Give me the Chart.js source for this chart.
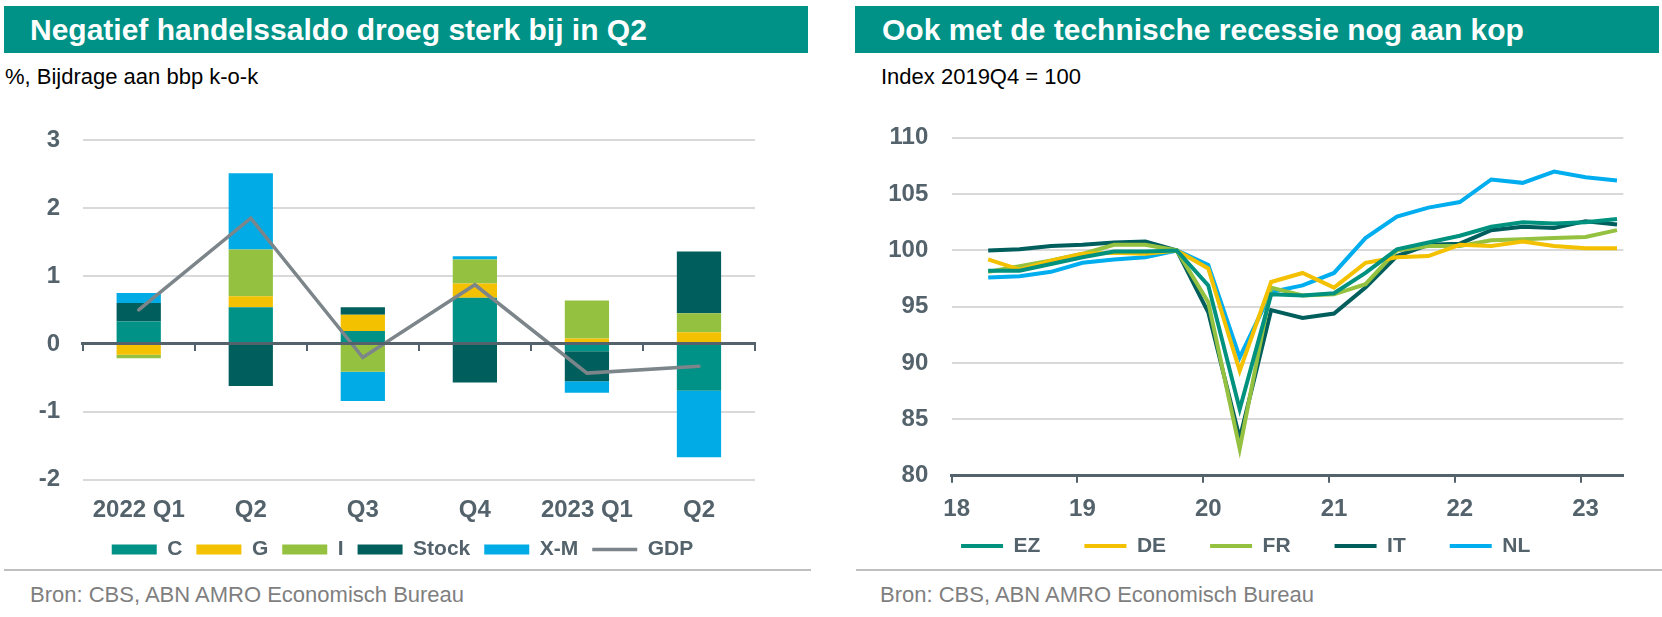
<!DOCTYPE html>
<html>
<head>
<meta charset="utf-8">
<script src="https://cdn.jsdelivr.net/npm/chart.js@4.4.0/dist/chart.umd.min.js"></script>
<style>
  body { margin: 0; width: 1662px; height: 617px; background: #fff; position: relative; overflow: hidden;
         font-family: 'Liberation Sans', Arial, sans-serif; }
  .head { position: absolute; top: 6px; height: 47px; width: 804px; background: #009286; color: #fff;
          font-weight: bold; font-size: 30px; line-height: 47px; box-sizing: border-box; white-space: nowrap; }
  .sub { position: absolute; top: 64px; font-size: 22px; line-height: 25px; color: #000; }
  .src { position: absolute; top: 582px; font-size: 22px; line-height: 25px; color: #7f7f7f; }
  .sep { position: absolute; top: 569px; height: 2px; background: #bfbfbf; }
  canvas { position: absolute; top: 100px; }
</style>
</head>
<body>
<div class="head" style="left:4px; padding-left:26px;">Negatief handelssaldo droeg sterk bij in Q2</div>
<div class="sub" style="left:5px;">%, Bijdrage aan bbp k-o-k</div>
<div class="sep" style="left:4px; width:807px;"></div>
<div class="src" style="left:30px;">Bron: CBS, ABN AMRO Economisch Bureau</div>
<canvas id="c1" width="830" height="470" style="left:0px;"></canvas>

<div class="head" style="left:855px; padding-left:27px;">Ook met de technische recessie nog aan kop</div>
<div class="sub" style="left:881px;">Index 2019Q4 = 100</div>
<div class="sep" style="left:856px; width:806px;"></div>
<div class="src" style="left:880px;">Bron: CBS, ABN AMRO Economisch Bureau</div>
<canvas id="c2" width="822" height="499" style="left:840px;"></canvas>

<script>
// left chart: contributions to GDP growth q-o-q
const quarters = ['2022 Q1', 'Q2', 'Q3', 'Q4', '2023 Q1', 'Q2'];
const consC  = [0.33, 0.54, 0.19, 0.68, -0.11, -0.69];
const govG   = [-0.16, 0.16, 0.24, 0.21, 0.08, 0.17];
const invI   = [-0.05, 0.69, -0.41, 0.35, 0.56, 0.28];
const stock  = [0.27, -0.62, 0.11, -0.57, -0.44, 0.91];
const netX   = [0.15, 1.12, -0.43, 0.05, -0.17, -0.98];
const gdp    = [0.50, 1.85, -0.20, 0.87, -0.43, -0.33];

// right chart: GDP index, 2019Q4 = 100
const periods = ['2018Q2','2018Q3','2018Q4','2019Q1','2019Q2','2019Q3','2019Q4','2020Q1','2020Q2','2020Q3','2020Q4',
                 '2021Q1','2021Q2','2021Q3','2021Q4','2022Q1','2022Q2','2022Q3','2022Q4','2023Q1','2023Q2'];
const ez = [98.2, 98.2, 98.8, 99.4, 99.9, 99.9, 100, 96.9, 85.9, 96.1, 96.0, 96.2, 98.0, 100.1, 100.7, 101.3, 102.1, 102.5, 102.4, 102.5, 102.8];
const de = [99.2, 98.3, 99.1, 99.7, 99.8, 99.7, 100, 98.4, 89.3, 97.2, 98.0, 96.7, 98.9, 99.4, 99.5, 100.5, 100.4, 100.8, 100.4, 100.2, 100.2];
const fr = [98.1, 98.6, 99.1, 99.7, 100.5, 100.5, 100, 95.4, 82.4, 96.7, 96.0, 96.1, 97.0, 100.0, 100.4, 100.4, 100.9, 101.0, 101.1, 101.2, 101.8];
const it = [100.0, 100.1, 100.4, 100.5, 100.7, 100.8, 100, 94.5, 83.3, 94.7, 94.0, 94.4, 96.7, 99.5, 100.5, 100.6, 101.8, 102.1, 102.0, 102.6, 102.3];
const nl = [97.6, 97.7, 98.1, 98.9, 99.2, 99.4, 100, 98.7, 90.5, 96.3, 96.9, 98.0, 101.1, 103.0, 103.8, 104.3, 106.3, 106.0, 107.0, 106.5, 106.2];
const yearLabels = ['18', '19', '20', '21', '22', '23'];

const FONT = "'Liberation Sans', Arial, sans-serif";
const AXIS = '#53626B';
const GRID = '#d9d9d9';

// move the legend box (Excel does not centre it on the canvas)
const shiftLegend = {
  id: 'shiftLegend',
  afterLayout(chart, args, opts) {
    const lg = chart.legend;
    if (!lg) return;
    const dx = opts.dx || 0, dy = opts.dy || 0;
    lg.left += dx; lg.right += dx;
    lg.top += dy; lg.bottom += dy;
  }
};

function bar(label, data, color) {
  return { type: 'bar', label: label, data: data, backgroundColor: color, borderWidth: 0,
           pointStyle: 'rect', barPercentage: 0.395, categoryPercentage: 1.0 };
}

new Chart(document.getElementById('c1'), {
  type: 'bar',
  data: {
    labels: quarters,
    datasets: [
      bar('C', consC, '#009286'),
      bar('G', govG, '#F3C100'),
      bar('I', invI, '#94C13F'),
      bar('Stock', stock, '#005E5D'),
      bar('X-M', netX, '#00ABE6'),
      { type: 'line', label: 'GDP', data: gdp, borderColor: '#7C858A', backgroundColor: '#7C858A',
        borderWidth: 3.5, pointRadius: 0, pointStyle: 'line', borderCapStyle: 'round', order: -1 }
    ]
  },
  options: {
    responsive: false,
    animation: false,
    layout: { padding: { left: 0, right: 75, top: 40, bottom: 0 } },
    scales: {
      x: {
        stacked: true,
        grid: { display: false, drawTicks: false },
        border: { display: false },
        ticks: { color: AXIS, padding: 16.3, font: { family: FONT, size: 24, weight: 'bold' } },
        afterFit: function(scale) { scale.height = 45.2; }
      },
      x2: {
        type: 'category',
        position: { y: 0 },
        offset: true,
        grid: { offset: true, drawOnChartArea: false, drawTicks: true, tickLength: 6, color: AXIS, lineWidth: 2, z: 1 },
        border: { display: true, color: AXIS, width: 3, z: 1 },
        ticks: { display: false }
      },
      y: {
        stacked: true,
        min: -2, max: 3,
        ticks: { stepSize: 1, color: AXIS, padding: 22.7, font: { family: FONT, size: 24, weight: 'bold' } },
        grid: { drawTicks: false, lineWidth: 2,
                color: function(ctx) { return ctx.tick && ctx.tick.value === 0 ? 'rgba(0,0,0,0)' : GRID; } },
        border: { display: false },
        afterFit: function(scale) { scale.width = 82.7; }
      }
    },
    plugins: {
      shiftLegend: { dx: 25 },
      tooltip: { enabled: false },
      legend: {
        position: 'bottom',
        labels: {
          usePointStyle: true, pointStyleWidth: 45, boxHeight: 10, padding: 14,
          color: AXIS, font: { family: FONT, size: 21, weight: 'bold' },
          sort: function(a, b) { return a.datasetIndex - b.datasetIndex; }
        }
      }
    }
  },
  plugins: [shiftLegend]
});

// quarter label -> position on the year axis
function qPos(p) {
  return Number(p.slice(0, 4)) + (Number(p.slice(5)) - 1) / 4 + 0.04;
}

function line(label, values, color) {
  return { label: label, data: periods.map(function(p, i) { return { x: qPos(p), y: values[i] }; }),
           borderColor: color, backgroundColor: color, borderWidth: 4, pointBorderWidth: 4,
           pointRadius: 0, pointStyle: 'line', borderJoinStyle: 'miter', tension: 0 };
}

new Chart(document.getElementById('c2'), {
  type: 'line',
  data: {
    datasets: [
      line('EZ', ez, '#00927F'),
      line('DE', de, '#F3C100'),
      line('FR', fr, '#94C13F'),
      line('IT', it, '#005E5D'),
      line('NL', nl, '#00ADEE')
    ]
  },
  options: {
    responsive: false,
    animation: false,
    layout: { padding: { left: 0, right: 38.7, top: 32.3, bottom: 0.6 } },
    scales: {
      x: {
        type: 'linear',
        min: 2018, max: 2023.34,
        grid: { drawOnChartArea: false, drawTicks: true, tickLength: 7, color: AXIS, lineWidth: 2 },
        border: { display: true, color: AXIS, width: 3 },
        ticks: { stepSize: 1, includeBounds: false, labelOffset: 5, padding: 11.9, color: AXIS,
                 font: { family: FONT, size: 24, weight: 'bold' },
                 callback: function(v, i) { return yearLabels[i]; } },
        afterFit: function(scale) { scale.height = 47.7; }
      },
      y: {
        min: 80, max: 110,
        ticks: { stepSize: 5, color: AXIS, padding: 23.4, font: { family: FONT, size: 24, weight: 'bold' } },
        grid: { drawTicks: false, lineWidth: 2, color: GRID },
        border: { display: false },
        afterFit: function(scale) { scale.width = 111.7; }
      }
    },
    plugins: {
      shiftLegend: { dx: 14, dy: -31.9 },
      tooltip: { enabled: false },
      legend: {
        position: 'bottom',
        labels: {
          usePointStyle: true, pointStyleWidth: 42, padding: 44,
          color: AXIS, font: { family: FONT, size: 21, weight: 'bold' }
        }
      }
    }
  },
  plugins: [shiftLegend]
});
</script>
</body>
</html>
